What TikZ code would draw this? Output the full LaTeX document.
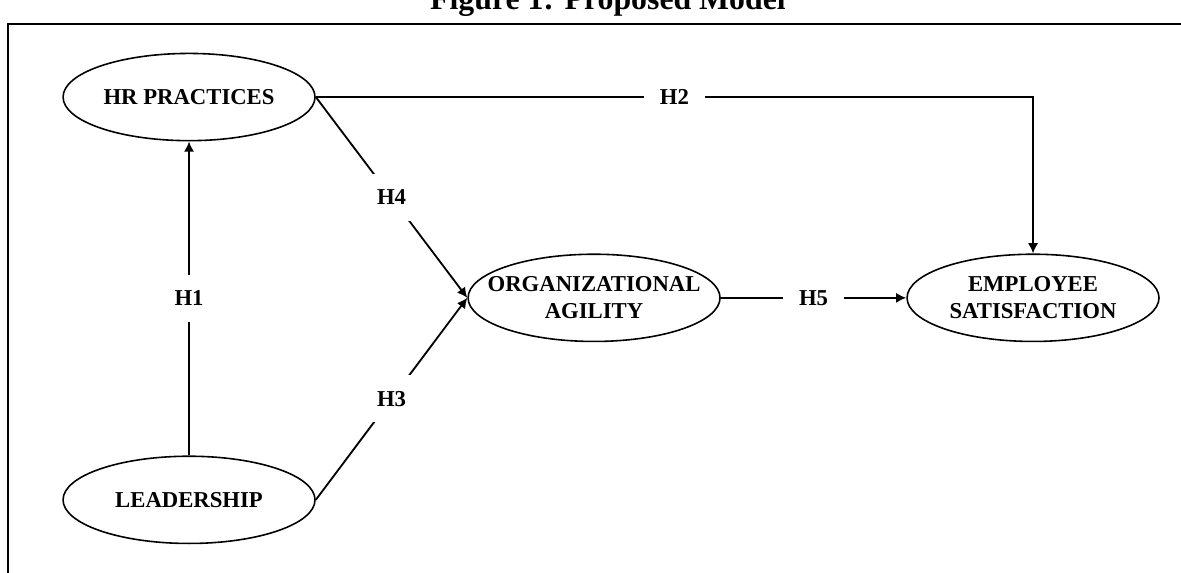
\documentclass[tikz,border=0pt]{standalone}
\usepackage{fontspec}
\setmainfont{Liberation Serif}
\usetikzlibrary{arrows.meta, positioning, shapes.geometric}

\begin{document}
\begin{tikzpicture}[>={Latex[length=4.5pt, width=4.5pt]},
    construct/.style={draw, ellipse, line width=0.7pt, minimum width=3.9cm,
      minimum height=1.35cm, inner xsep=-8pt, inner ysep=0pt,
      align=center, font=\bfseries},
    path/.style={->, line width=0.8pt},
    hyp/.style={fill=white, inner sep=7pt, font=\bfseries}]
  \useasboundingbox (0,0) rectangle (18.28,-8.855);

  % Frame and caption
  \node[anchor=base, font=\fontsize{14}{16}\selectfont\bfseries] (title)
    at (9.41,-0.14) {Figure 1: Proposed Model};
  \draw[line width=1pt] (0.125,-9.2) |- (18.6,-0.37);

  % Constructs
  \node[construct] (hr) at (2.926,-1.502) {HR PRACTICES};
  \node[construct, below=4.86cm of hr] (lead) {LEADERSHIP};
  \node[construct] (org) at (9.195,-4.61) {ORGANIZATIONAL\\AGILITY};
  \node[construct, right=2.87cm of org] (esat) {EMPLOYEE\\SATISFACTION};

  % Hypotheses
  \draw[path] (lead) -- node[hyp] {H1} (hr);
  \draw[path] (hr.east) -| node[hyp, pos=0.25] {H2} (esat.north);
  \draw[path] (lead.east) -- node[hyp] {H3} (org.west);
  \draw[path] (hr.east) -- node[hyp] {H4} (org.west);
  \draw[path] (org) -- node[hyp] {H5} (esat);
\end{tikzpicture}
\end{document}
